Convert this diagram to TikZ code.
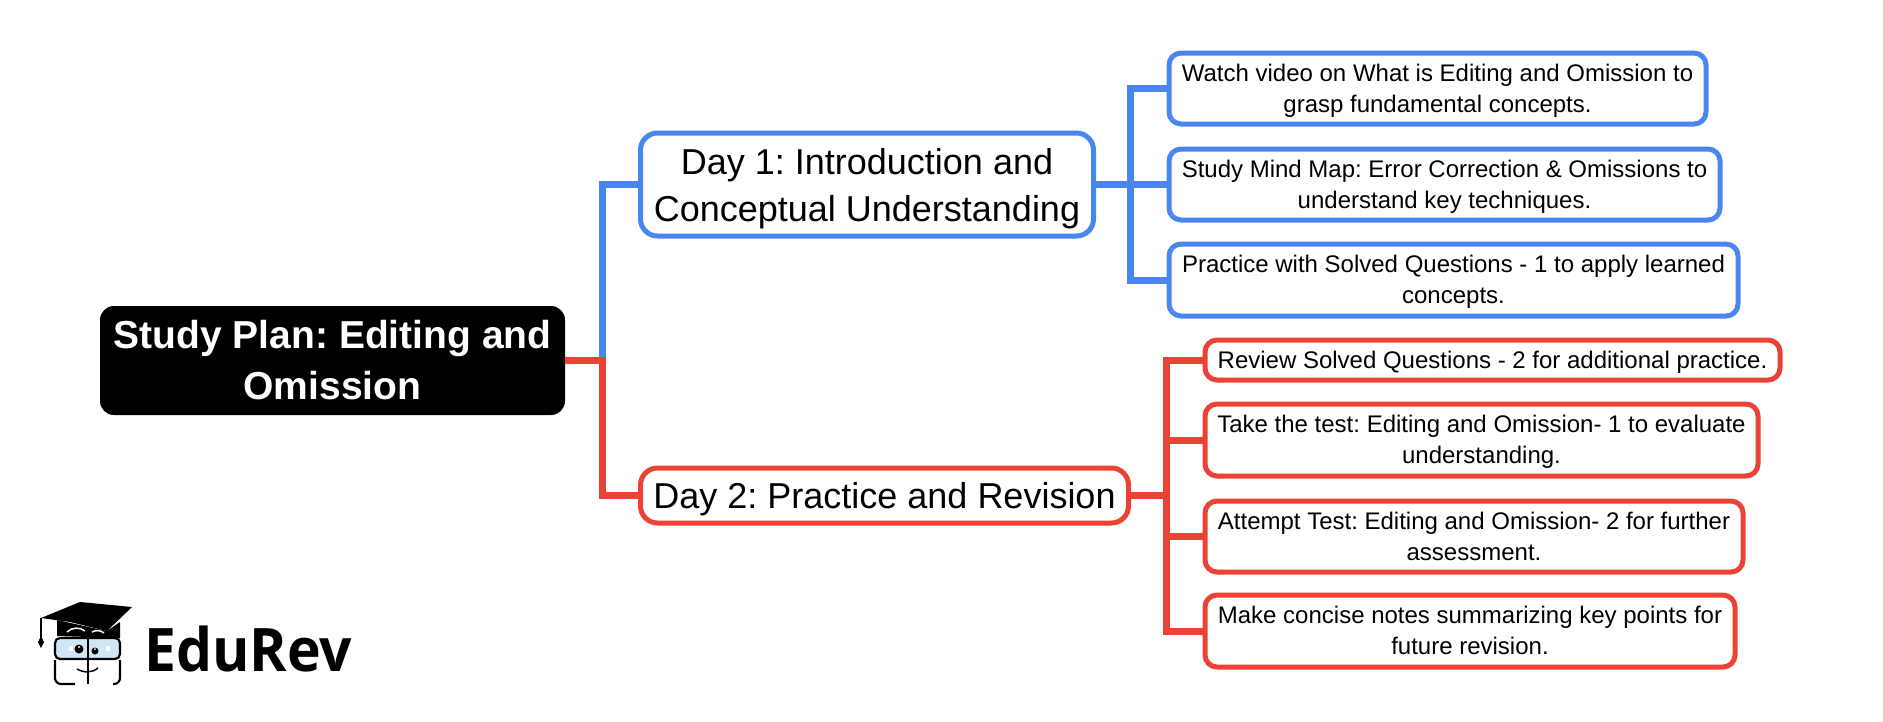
\documentclass[tikz,border=0pt]{standalone}
\usepackage{fontspec}
\setmainfont{Liberation Sans}
\newfontfamily\logofont{Open Sans}
\definecolor{dayblue}{HTML}{4A86F0}
\definecolor{dayred}{HTML}{EA4335}
\definecolor{glassblue}{HTML}{CFE6F7}
\frenchspacing
\begin{document}
\begin{tikzpicture}[x=1pt, y=-1pt,
    root/.style={fill=black, text=white, rounded corners=14pt, inner sep=0pt, outer sep=0pt, align=center, font=\fontsize{39}{51}\selectfont\bfseries},
    day/.style={draw=#1, fill=white, line width=5pt, rounded corners=17pt, inner sep=0pt, outer sep=0pt, align=center, text depth=0pt, font=\fontsize{36}{47}\selectfont},
    task/.style={draw=#1, fill=white, line width=5pt, rounded corners=12pt, inner sep=0pt, outer sep=0pt, align=center, text depth=0.5pt, font=\fontsize{24}{31}\selectfont},
    link/.style={line width=7pt}]
    \useasboundingbox (0, 0) rectangle (1883, 721);

    \node[root, minimum width=465pt, minimum height=109pt] (root) at (332.5, 360.5) {Study Plan: Editing and\\Omission};
    \node[day=dayblue, minimum width=453pt, minimum height=103pt] (day1) at (867, 184.5) {Day 1: Introduction and\\Conceptual Understanding};
    \node[day=dayred, minimum width=488pt, minimum height=55pt] (day2) at (884.5, 495.5) {Day 2: Practice and Revision};

    \node[task=dayblue, minimum width=537pt, minimum height=71pt] (watch) at (1437.5, 88.5) {Watch video on What is Editing and Omission to\\grasp fundamental concepts.};
    \node[task=dayblue, minimum width=551pt, minimum height=71pt] (mindmap) at (1444.5, 184.5) {Study Mind Map: Error Correction \& Omissions to\\understand key techniques.};
    \node[task=dayblue, minimum width=569pt, minimum height=72pt] (solved) at (1453.5, 280) {Practice with Solved Questions - 1 to apply learned\\concepts.};

    \node[task=dayred, minimum width=575pt, minimum height=40pt] (review) at (1492.5, 360) {Review Solved Questions - 2 for additional practice.};
    \node[task=dayred, minimum width=553pt, minimum height=72pt] (testone) at (1481.5, 440) {Take the test: Editing and Omission- 1 to evaluate\\understanding.};
    \node[task=dayred, minimum width=538pt, minimum height=71pt] (testtwo) at (1474, 536.5) {Attempt Test: Editing and Omission- 2 for further\\assessment.};
    \node[task=dayred, minimum width=530pt, minimum height=72pt] (notes) at (1470, 631) {Make concise notes summarizing key points for\\future revision.};

    \coordinate (rootbus) at (602, 360.5);
    \coordinate (bluebus) at (1130, 184.5);
    \coordinate (redbus) at (1166, 495.5);

    \draw[link, dayblue] (rootbus) |- (day1.west);
    \draw[link, dayred] (root.east) -- (rootbus) |- (day2.west);
    \draw[link, dayblue] (day1.east) -- (bluebus);
    \draw[link, dayred] (day2.east) -- (redbus);
    \foreach \child in {watch, mindmap, solved}
        \draw[link, dayblue] (bluebus) |- (\child.west);
    \foreach \child in {review, testone, testtwo, notes}
        \draw[link, dayred] (redbus) |- (\child.west);

    \fill (41, 618) -- (80, 602) -- (132, 607) -- (107, 631) -- (70, 622) -- cycle;
    \fill (57, 620) -- (57, 636) -- (120, 638) -- (120, 622) -- (107, 631) -- cycle;
    \draw[line width=1.2pt] (41, 618) -- (41, 638);
    \fill (41, 636) -- (44, 642) -- (41, 648) -- (38, 642) -- cycle;
    \draw[white, line width=1.5pt] (67, 632) .. controls (72, 627) and (80, 627) .. (85, 631);
    \draw[white, line width=1.5pt] (92, 632) .. controls (96, 630) and (100, 630) .. (104, 633);
    \draw[fill=glassblue, line width=2.2pt, rounded corners=5pt] (55, 638) rectangle (120, 659);
    \draw[line width=2.2pt, rounded corners=6pt] (55, 660) -- (55, 684) -- (75, 684);
    \draw[line width=2.2pt, rounded corners=6pt] (120, 660) -- (120, 684) -- (113, 684);
    \draw[line width=2.2pt] (88, 637) -- (88, 684);
    \draw[line width=1.5pt] (77, 669) .. controls (84, 673) and (92, 673) .. (98, 668);
    \fill (79, 649) circle (4.5pt);
    \fill (95, 651) circle (3.5pt);
    \fill[white] (79, 647) circle (1.2pt);
    \fill[white] (95, 649) circle (1pt);
    \foreach \eye in {69, 106}
        \fill[white] (\eye, 646) rectangle (\eye + 4, 651);

    \node[anchor=base west, inner sep=0pt, xscale=0.95, font=\fontsize{60}{60}\logofont\bfseries] (logo) at (144, 671.5) {EduRev};
\end{tikzpicture}
\end{document}
